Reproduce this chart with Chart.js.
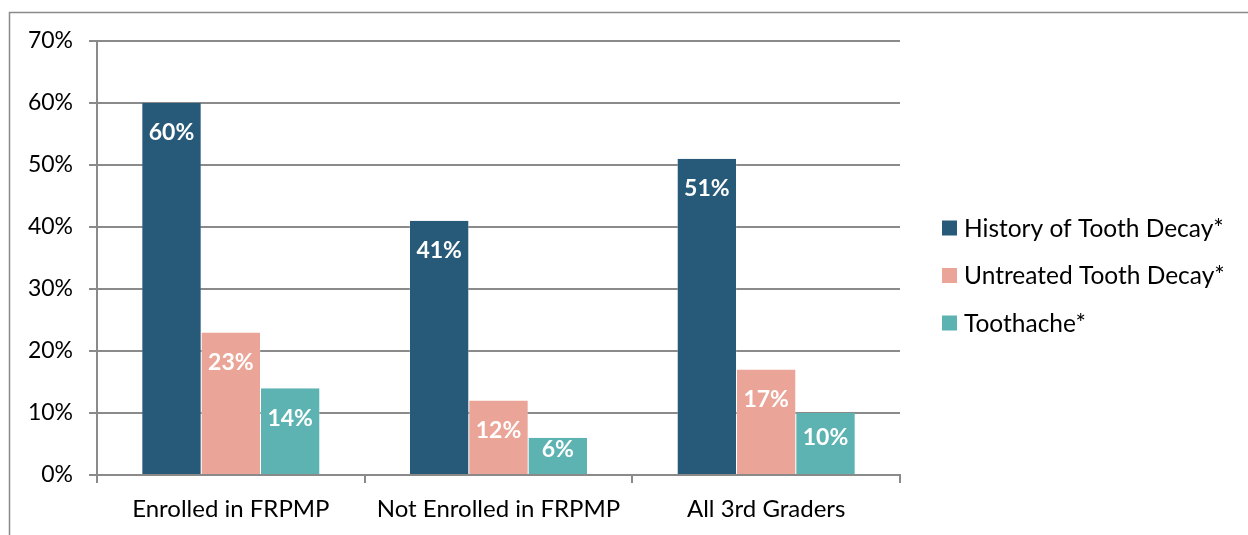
<!DOCTYPE html>
<html>
<head>
<meta charset="utf-8">
<script src="https://cdn.jsdelivr.net/npm/chart.js@4"></script>
<style>
html,body{margin:0;padding:0;background:#fff;}
#wrap{width:1248px;height:535px;position:relative;}
</style>
</head>
<body>
<div id="wrap"><canvas id="c" width="1248" height="535"></canvas></div>
<script>
const categories = ["Enrolled in FRPMP", "Not Enrolled in FRPMP", "All 3rd Graders"];
const seriesNames = ["History of Tooth Decay*", "Untreated Tooth Decay*", "Toothache*"];
const historyDecay = [60, 41, 51];
const untreatedDecay = [23, 12, 17];
const toothache = [14, 6, 10];
const yTicks = [0, 10, 20, 30, 40, 50, 60, 70];
const colors = ["#265A78", "#EBA598", "#5DB3B1"];

const FONT = "Lato, 'Open Sans', sans-serif";

const framePlugin = {
  id: 'frame',
  beforeDraw(chart) {
    const ctx = chart.ctx;
    ctx.save();
    ctx.strokeStyle = '#8a8a8a';
    ctx.lineWidth = 1.5;
    ctx.beginPath();
    ctx.moveTo(9.5, 540);
    ctx.lineTo(9.5, 12.5);
    ctx.lineTo(1260, 12.5);
    ctx.stroke();
    ctx.restore();
  }
};

const labelPlugin = {
  id: 'barLabels',
  afterDatasetsDraw(chart) {
    const ctx = chart.ctx;
    ctx.save();
    ctx.fillStyle = '#ffffff';
    ctx.font = "bold 23px " + FONT;
    ctx.textAlign = 'center';
    ctx.textBaseline = 'middle';
    chart.data.datasets.forEach((ds, i) => {
      const meta = chart.getDatasetMeta(i);
      meta.data.forEach((bar, j) => {
        const h = bar.base - bar.y;
        const off = Math.min(29, h / 2 - 7);
        ctx.fillText(ds.data[j] + '%', bar.x, bar.y + off + 1);
      });
    });
    ctx.restore();
  }
};

const legendPlugin = {
  id: 'customLegend',
  afterDraw(chart) {
    const ctx = chart.ctx;
    ctx.save();
    ctx.font = "24.5px " + FONT;
    ctx.textBaseline = 'middle';
    ctx.textAlign = 'left';
    chart.data.datasets.forEach((ds, i) => {
      const cy = 228 + i * 47.5;
      ctx.fillStyle = ds.backgroundColor;
      ctx.fillRect(942, cy - 7.5, 15, 15);
      ctx.fillStyle = '#000000';
      ctx.fillText(ds.label, 964, cy + 1);
    });
    ctx.restore();
  }
};

new Chart(document.getElementById('c'), {
  type: 'bar',
  data: {
    labels: categories,
    datasets: [
      { label: seriesNames[0], data: historyDecay, backgroundColor: colors[0] },
      { label: seriesNames[1], data: untreatedDecay, backgroundColor: colors[1] },
      { label: seriesNames[2], data: toothache, backgroundColor: colors[2] }
    ].map(d => Object.assign(d, { borderColor: 'rgba(255,255,255,0.6)', borderWidth: {left:0.5,right:0.5,top:0,bottom:0}, categoryPercentage: 0.665, barPercentage: 1.0 }))
  },
  options: {
    responsive: false,
    animation: false,
    devicePixelRatio: 1,
    layout: { padding: { left: 0, top: 41, right: 348, bottom: 0 } },
    plugins: { legend: { display: false }, tooltip: { enabled: false } },
    scales: {
      x: {
        afterFit(s) { s.height = 60; },
        grid: { display: true, drawOnChartArea: false, offset: true, tickLength: 8, color: '#8a8a8a', lineWidth: 2 },
        border: { display: true, color: '#8a8a8a', width: 2 },
        ticks: { color: '#000', font: { family: FONT, size: 24 }, padding: 12, maxRotation: 0 }
      },
      y: {
        min: 0, max: 70,
        afterFit(s) { s.width = 97; },
        afterBuildTicks(s) { s.ticks = yTicks.map(v => ({ value: v })); },
        grid: { color: '#8a8a8a', lineWidth: 2, tickLength: 8 },
        border: { display: true, color: '#8a8a8a', width: 2 },
        ticks: { color: '#000', font: { family: FONT, size: 23 }, padding: 16, callback: v => v + '%' }
      }
    }
  },
  plugins: [framePlugin, labelPlugin, legendPlugin]
});
</script>
</body>
</html>
